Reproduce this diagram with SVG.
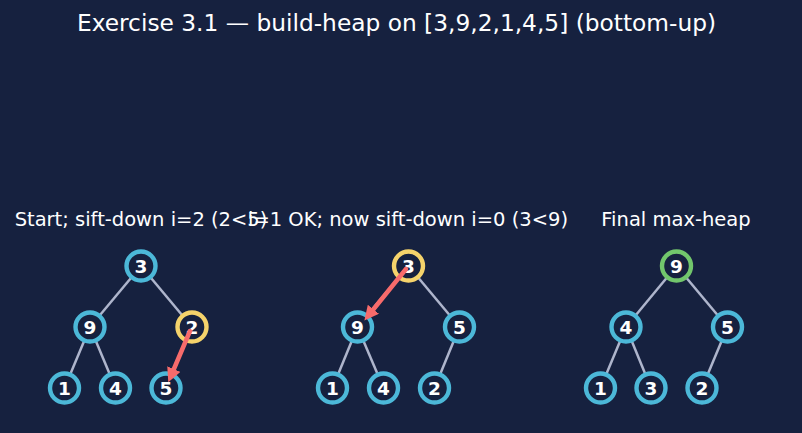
<svg xmlns="http://www.w3.org/2000/svg" width="802" height="433" viewBox="0 0 802 433">
<defs>
<style>
.bg{fill:#16213f}
.title{font-family:"DejaVu Sans",sans-serif;font-size:23.3px;fill:#ffffff;text-anchor:middle}
.sub{font-family:"DejaVu Sans",sans-serif;font-size:19.5px;fill:#ffffff;text-anchor:middle}
.n circle{fill:#16213f;stroke:#4cb8d8;stroke-width:4.4}
.n.hl circle{stroke:#f5d36b}
.n.ok circle{stroke:#72c66c}
.n text{font-family:"DejaVu Sans",sans-serif;font-size:18.5px;font-weight:bold;fill:#ffffff;text-anchor:middle}
.e{stroke:#aeb5cc;stroke-width:2.5;fill:none}
.a{stroke:#f76b6b;stroke-width:4.5;fill:none;stroke-linecap:round}
</style>
<marker id="ah" viewBox="0 0 10 10" refX="6" refY="5" markerWidth="3.2" markerHeight="3.2" orient="auto" markerUnits="strokeWidth">
<path d="M0,0 L10,5 L0,10 z" fill="#f76b6b"/>
</marker>
</defs>
<rect class="bg" x="0" y="0" width="802" height="433"/>
<text class="title" x="396.5" y="31">Exercise 3.1 — build-heap on [3,9,2,1,4,5] (bottom-up)</text>
<text class="sub" x="141" y="226">Start; sift-down i=2 (2&lt;5)</text>
<text class="sub" x="408" y="226">i=1 OK; now sift-down i=0 (3&lt;9)</text>
<text class="sub" x="676" y="226">Final max-heap</text>
<g id="edges">
<line class="e" x1="141" y1="266" x2="90" y2="327"/>
<line class="e" x1="141" y1="266" x2="192" y2="327"/>
<line class="e" x1="90" y1="327" x2="64.5" y2="388"/>
<line class="e" x1="90" y1="327" x2="115.5" y2="388"/>
<line class="e" x1="192" y1="327" x2="166" y2="388"/>
<line class="e" x1="408.5" y1="266" x2="357.5" y2="327"/>
<line class="e" x1="408.5" y1="266" x2="459.5" y2="327"/>
<line class="e" x1="357.5" y1="327" x2="332.5" y2="388"/>
<line class="e" x1="357.5" y1="327" x2="383.5" y2="388"/>
<line class="e" x1="459.5" y1="327" x2="434.5" y2="388"/>
<line class="e" x1="676.5" y1="266" x2="626" y2="327"/>
<line class="e" x1="676.5" y1="266" x2="727.5" y2="327"/>
<line class="e" x1="626" y1="327" x2="600.5" y2="388"/>
<line class="e" x1="626" y1="327" x2="651" y2="388"/>
<line class="e" x1="727.5" y1="327" x2="702" y2="388"/>
</g>
<g id="t1n0" class="n"><circle cx="141" cy="266" r="14.5"/><text x="141" y="272.6">3</text></g>
<g id="t1n1" class="n"><circle cx="90" cy="327" r="14.5"/><text x="90" y="333.6">9</text></g>
<g id="t1n2" class="n hl"><circle cx="192" cy="327" r="14.5"/><text x="192" y="333.6">2</text></g>
<g id="t1n3" class="n"><circle cx="64.5" cy="388" r="14.5"/><text x="64.5" y="394.6">1</text></g>
<g id="t1n4" class="n"><circle cx="115.5" cy="388" r="14.5"/><text x="115.5" y="394.6">4</text></g>
<g id="t1n5" class="n"><circle cx="166" cy="388" r="14.5"/><text x="166" y="394.6">5</text></g>
<g id="t2n0" class="n hl"><circle cx="408.5" cy="266" r="14.5"/><text x="408.5" y="272.6">3</text></g>
<g id="t2n1" class="n"><circle cx="357.5" cy="327" r="14.5"/><text x="357.5" y="333.6">9</text></g>
<g id="t2n2" class="n"><circle cx="459.5" cy="327" r="14.5"/><text x="459.5" y="333.6">5</text></g>
<g id="t2n3" class="n"><circle cx="332.5" cy="388" r="14.5"/><text x="332.5" y="394.6">1</text></g>
<g id="t2n4" class="n"><circle cx="383.5" cy="388" r="14.5"/><text x="383.5" y="394.6">4</text></g>
<g id="t2n5" class="n"><circle cx="434.5" cy="388" r="14.5"/><text x="434.5" y="394.6">2</text></g>
<g id="t3n0" class="n ok"><circle cx="676.5" cy="266" r="14.5"/><text x="676.5" y="272.6">9</text></g>
<g id="t3n1" class="n"><circle cx="626" cy="327" r="14.5"/><text x="626" y="333.6">4</text></g>
<g id="t3n2" class="n"><circle cx="727.5" cy="327" r="14.5"/><text x="727.5" y="333.6">5</text></g>
<g id="t3n3" class="n"><circle cx="600.5" cy="388" r="14.5"/><text x="600.5" y="394.6">1</text></g>
<g id="t3n4" class="n"><circle cx="651" cy="388" r="14.5"/><text x="651" y="394.6">3</text></g>
<g id="t3n5" class="n"><circle cx="702" cy="388" r="14.5"/><text x="702" y="394.6">2</text></g>
<g id="arrows">
<line class="a" x1="190" y1="331" x2="170.5" y2="377" marker-end="url(#ah)"/>
<line class="a" x1="406" y1="269" x2="368" y2="316" marker-end="url(#ah)"/>
</g>
</svg>
